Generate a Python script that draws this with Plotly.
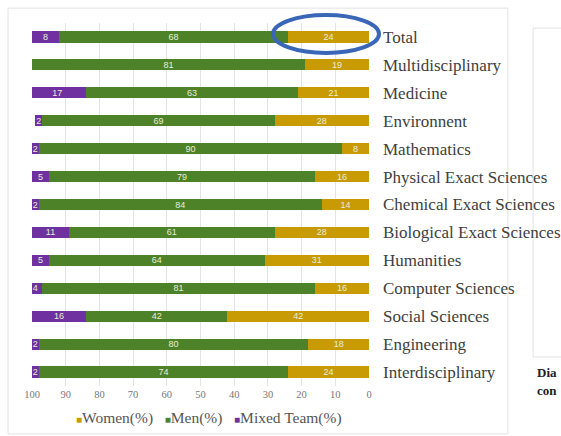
import plotly.graph_objects as go

cat_labels = ["Total", "Multidisciplinary", "Medicine", "Environnent", "Mathematics",
              "Physical Exact Sciences", "Chemical Exact Sciences", "Biological Exact Sciences",
              "Humanities", "Computer Sciences", "Social Sciences", "Engineering", "Interdisciplinary"]
women = [24, 19, 21, 28, 8, 16, 14, 28, 31, 16, 42, 18, 24]
men = [68, 81, 63, 69, 90, 79, 84, 61, 64, 81, 42, 80, 74]
mixed = [8, 0, 17, 2, 2, 5, 2, 11, 5, 4, 16, 2, 2]
series_names = ["Women(%)", "Men(%)", "Mixed Team(%)"]
x_ticks = [100, 90, 80, 70, 60, 50, 40, 30, 20, 10, 0]

C_WOMEN = "#C89B05"
C_MEN = "#4E8228"
C_MIXED = "#7031A0"
colors = [C_WOMEN, C_MEN, C_MIXED]
serif = "Liberation Serif, DejaVu Serif, serif"

fig = go.Figure()
for name, vals, col in zip(series_names, [women, men, mixed], colors):
    fig.add_trace(go.Bar(
        y=cat_labels, x=vals, name=name, orientation="h", marker_color=col,
        marker_line_width=0, width=0.4,
        text=[str(v) if v else "" for v in vals], textposition="inside",
        insidetextanchor="middle", textangle=0, constraintext="none",
        textfont=dict(family="Liberation Sans Narrow, Liberation Sans, sans-serif", size=9, color="#E6EED8"),
        showlegend=False,
    ))

n = len(cat_labels)
fig.update_layout(
    barmode="stack",
    width=561, height=436,
    margin=dict(l=32, r=192, t=23, b=50),
    paper_bgcolor="white", plot_bgcolor="white",
    uniformtext=dict(minsize=6, mode="show"),
    xaxis=dict(range=[100, 0], tickvals=x_ticks, showgrid=True, gridcolor="#E4E4E4",
               gridwidth=1, zeroline=False, showline=False, ticks="", automargin=False,
               tickfont=dict(family=serif, size=10.5, color="#777777")),
    yaxis=dict(categoryorder="array", categoryarray=cat_labels, range=[n - 0.5, -0.5],
               side="right", showgrid=False, zeroline=False, ticks="", automargin=False,
               ticklabelstandoff=13,
               tickfont=dict(family=serif, size=17, color="#404040")),
    showlegend=False,
)

# legend drawn as a text line with coloured square markers
legend_text = "   ".join(
    f"<span style='color:{c};font-size:10px'>■</span>{nm}" for nm, c in zip(series_names, colors))
fig.add_annotation(xref="paper", yref="paper", x=(209 - 32) / 337, y=(386 - 418) / 363,
                   xanchor="center", yanchor="middle", showarrow=False, text=legend_text,
                   font=dict(family=serif, size=15.5, color="#555555"))

# chart frame and neighbouring panel
fig.add_shape(type="rect", xref="paper", yref="paper", x0=-0.0712, x1=1.412, y0=-0.132, y1=1.041,
              line=dict(color="#E2E2E2", width=1), fillcolor="rgba(0,0,0,0)", layer="below")
fig.add_shape(type="rect", xref="paper", yref="paper", x0=1.487, x1=1.70, y0=0.080, y1=0.986,
              line=dict(color="#E2E2E2", width=1), fillcolor="rgba(0,0,0,0)", layer="below")
fig.add_annotation(xref="paper", yref="paper", x=(535 - 32) / 337, y=(386 - 372) / 363, xanchor="left",
                   yanchor="middle", showarrow=False, text="<b>Dia</b>",
                   font=dict(family=serif, size=13, color="#222222"))
fig.add_annotation(xref="paper", yref="paper", x=(535 - 32) / 337, y=(386 - 390) / 363, xanchor="left",
                   yanchor="middle", showarrow=False, text="<b>con</b>",
                   font=dict(family=serif, size=13, color="#222222"))

# highlight ellipse around Total women share (paper coords so it is not clipped)
fig.add_shape(type="circle", xref="paper", yref="paper",
              x0=(273 - 32) / 337, x1=(379 - 32) / 337,
              y0=(386 - 53) / 363, y1=(386 - 15) / 363,
              line=dict(color="#3A66B8", width=4))

fig.write_html("out.html", config={"displayModeBar": False},
               post_script="document.body.style.margin='0';document.body.style.overflow='hidden';")
